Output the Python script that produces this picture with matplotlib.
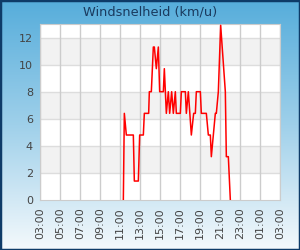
import numpy as np
import matplotlib
matplotlib.use("Agg")
import matplotlib.pyplot as plt
from matplotlib.colors import LinearSegmentedColormap

title = "Windsnelheid (km/u)"

# measurement times (local) and wind speed in km/u
times = ["11:20", "11:26", "11:38", "12:20", "12:26", "12:50", "12:58", "13:20",
         "13:26", "13:52", "13:56", "14:08", "14:20", "14:26", "14:38", "14:50",
         "14:58", "15:20", "15:26", "15:38", "15:50", "15:58", "16:10", "16:20",
         "16:32", "16:38", "17:02", "17:08", "17:32", "17:38", "17:50", "18:08",
         "18:22", "18:32", "18:38", "19:02", "19:08", "19:38", "19:50", "20:02",
         "20:08", "20:32", "20:38", "20:50", "21:04", "21:32", "21:38", "21:50",
         "22:02"]
speeds = [0.0, 6.4, 4.8, 4.8, 1.4, 1.4, 4.8, 4.8,
          6.4, 6.4, 8.0, 8.0, 11.3, 11.3, 9.7, 11.3,
          8.0, 8.0, 9.7, 6.4, 8.0, 6.4, 8.0, 6.4,
          8.0, 6.4, 6.4, 8.0, 8.0, 6.4, 8.0, 4.8,
          6.4, 6.4, 8.0, 8.0, 6.4, 6.4, 4.8, 4.8,
          3.2, 6.4, 6.4, 8.0, 12.9, 8.0, 3.2, 3.2,
          0.0]

tick_labels = ["03:00", "05:00", "07:00", "09:00", "11:00", "13:00", "15:00",
               "17:00", "19:00", "21:00", "23:00", "01:00", "03:00"]
y_ticks = [0, 2, 4, 6, 8, 10, 12]


def to_hours(s):
    h, m = s.split(":")
    return (int(h) - 3) % 24 + int(m) / 60.0


x = [to_hours(t) for t in times]

fig = plt.figure(figsize=(3, 2.5), dpi=100)

# gradient background
bg = fig.add_axes([0, 0, 1, 1])
cmap = LinearSegmentedColormap.from_list("bg", ["#56addb", "#9fd0ea", "#f4f9fc"])
grad = np.linspace(0, 1, 256).reshape(-1, 1)
bg.imshow(grad, aspect="auto", cmap=cmap, extent=[0, 1, 0, 1], origin="upper")
bg.set_xlim(0, 1)
bg.set_ylim(0, 1)
bg.axis("off")
bg.add_patch(plt.Rectangle((0, 0), 1, 1, transform=bg.transAxes, fill=False,
                           edgecolor="#0e3b68", linewidth=2.5))

fig.text(0.5, 0.952, title, ha="center", va="center", fontsize=9.3, color="#1a3a5e")

ax = fig.add_axes([40 / 300, 50 / 250, 240 / 300, 176 / 250])
ax.set_facecolor("white")
for lo in [2, 6, 10]:
    ax.axhspan(lo, lo + 2, color="#f2f2f2", zorder=0, linewidth=0)
for yv in y_ticks[1:]:
    ax.axhline(yv, color="#dddddd", linewidth=1, zorder=1)
for xv in range(0, 25, 2):
    ax.axvline(xv, color="#cccccc", linewidth=1, zorder=1)

ax.plot(x, speeds, color="#ff0000", linewidth=1.1, zorder=3)

ax.set_xlim(0, 24)
ax.set_ylim(0, 13)
ax.set_xticks(range(0, 25, 2))
ax.set_xticklabels(tick_labels, rotation=90)
ax.set_yticks(y_ticks)
ax.tick_params(length=0, labelsize=8, colors="#444444", pad=5)
for sp in ax.spines.values():
    sp.set_color("#cccccc")

fig.savefig("out.png", dpi=100)
